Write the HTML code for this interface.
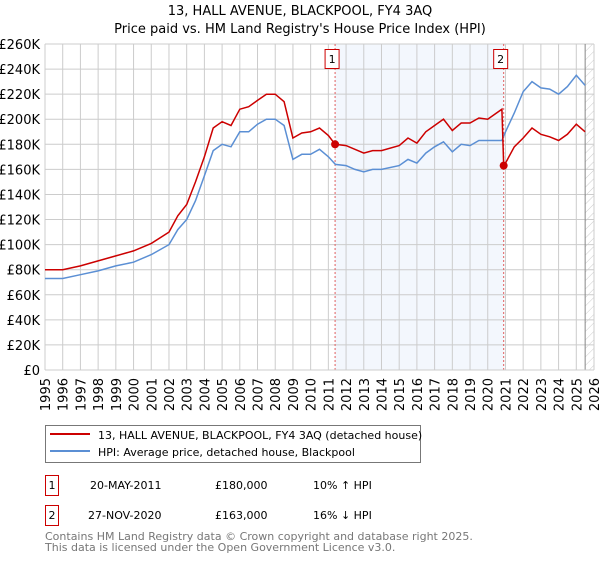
<!DOCTYPE html>
<html><head><meta charset="utf-8"><style>
body{margin:0;background:#fff;font-family:"DejaVu Sans","Liberation Sans",sans-serif;}
svg text{font-family:"DejaVu Sans","Liberation Sans",sans-serif;}
</style></head><body>
<svg id="c" width="600" height="560" viewBox="0 0 600 560">
<defs><pattern id="hatch" width="6" height="6" patternUnits="userSpaceOnUse" patternTransform="rotate(45)"><line x1="0" y1="0" x2="0" y2="6" stroke="#ccc" stroke-width="1"/></pattern></defs>
<text x="300" y="15" text-anchor="middle" font-size="13">13, HALL AVENUE, BLACKPOOL, FY4 3AQ</text>
<text x="300" y="33" text-anchor="middle" font-size="13">Price paid vs. HM Land Registry's House Price Index (HPI)</text>
<g id="plot"></g>
<g>
<rect x="45.5" y="425.5" width="375" height="37" fill="#fff" stroke="#777"/>
<line x1="50" y1="434" x2="90" y2="434" stroke="#cc0000" stroke-width="2"/>
<text x="98" y="439" font-size="11">13, HALL AVENUE, BLACKPOOL, FY4 3AQ (detached house)</text>
<line x1="50" y1="451" x2="90" y2="451" stroke="#5b8fd4" stroke-width="2"/>
<text x="98" y="456" font-size="11">HPI: Average price, detached house, Blackpool</text>
</g>
<g font-size="11">
<rect x="45.5" y="475.5" width="13" height="20" fill="#fff" stroke="#cc0000"/>
<text x="52" y="489" text-anchor="middle">1</text>
<text x="90" y="489">20-MAY-2011</text><text x="215" y="489">£180,000</text><text x="313" y="489">10% ↑ HPI</text>
<rect x="45.5" y="505.5" width="13" height="20" fill="#fff" stroke="#cc0000"/>
<text x="52" y="519" text-anchor="middle">2</text>
<text x="88" y="519">27-NOV-2020</text><text x="215" y="519">£163,000</text><text x="313" y="519">16% ↓ HPI</text>
</g>
<text x="45" y="540" font-size="11" fill="#777">Contains HM Land Registry data © Crown copyright and database right 2025.</text>
<text x="45" y="551" font-size="11" fill="#777">This data is licensed under the Open Government Licence v3.0.</text>
</svg>
<script>
const yTicks=[0,20,40,60,80,100,120,140,160,180,200,220,240,260];
const xYears=[1995,1996,1997,1998,1999,2000,2001,2002,2003,2004,2005,2006,2007,2008,2009,2010,2011,2012,2013,2014,2015,2016,2017,2018,2019,2020,2021,2022,2023,2024,2025,2026];
const hpiT=[1995,1996,1997,1998,1999,2000,2001,2002,2002.5,2003,2003.5,2004,2004.5,2005,2005.5,2006,2006.5,2007,2007.5,2008,2008.5,2009,2009.5,2010,2010.5,2011,2011.4,2012,2012.5,2013,2013.5,2014,2015,2015.5,2016,2016.5,2017,2017.5,2018,2018.5,2019,2019.5,2020,2020.8,2021,2021.5,2022,2022.5,2023,2023.5,2024,2024.5,2025,2025.5];
const hpiV=[73,73,76,79,83,86,92,100,112,120,135,155,175,180,178,190,190,196,200,200,195,168,172,172,176,170,164,163,160,158,160,160,163,168,165,173,178,182,174,180,179,183,183,183,190,205,222,230,225,224,220,226,235,227];
const redT=[1995,1996,1997,1998,1999,2000,2001,2002,2002.5,2003,2003.5,2004,2004.5,2005,2005.5,2006,2006.5,2007,2007.5,2008,2008.5,2009,2009.5,2010,2010.5,2011,2011.38,2012,2012.5,2013,2013.5,2014,2015,2015.5,2016,2016.5,2017,2017.5,2018,2018.5,2019,2019.5,2020,2020.8,2020.9,2021,2021.5,2022,2022.5,2023,2023.5,2024,2024.5,2025,2025.5];
const redV=[80,80,83,87,91,95,101,110,123,132,150,170,193,198,195,208,210,215,220,220,214,185,189,190,193,187,180,179,176,173,175,175,179,185,181,190,195,200,191,197,197,201,200,208,163,165,178,185,193,188,186,183,188,196,190];
const saleT=[2011.38,2020.9];
const saleV=[180,163];
const saleLabels=["1","2"];
const X0=45,X1=594,Y0=370,Y1=44;
const xs=t=>X0+(t-1995)/(2026-1995)*(X1-X0);
const ys=v=>Y0-v/260*(Y0-Y1);
const NS="http://www.w3.org/2000/svg";
const g=document.getElementById('plot');
function mk(tag,attrs,parent){const e=document.createElementNS(NS,tag);for(const k in attrs)e.setAttribute(k,attrs[k]);(parent||g).appendChild(e);return e;}
let r=mk('rect',{x:xs(saleT[0]),y:Y1,width:xs(saleT[1])-xs(saleT[0]),height:Y0-Y1,fill:'#eef3fc',opacity:0.7});


let h=mk('rect',{x:xs(2025.5),y:Y1,width:X1-xs(2025.5),height:Y0-Y1,fill:'url(#hatch)'});


yTicks.forEach(v=>{
 let l=mk('line',{x1:X0,x2:X1,y1:ys(v),y2:ys(v),stroke:'#ccc','stroke-width':1});
 
 
 let t=mk('text',{x:40,y:ys(v)+5,'text-anchor':'end','font-size':13});
 t.textContent=v===0?'£0':'£'+v+'K';
 
 
});
xYears.forEach(y=>{
 let l=mk('line',{x1:xs(y),x2:xs(y),y1:Y1,y2:Y0,stroke:'#ccc','stroke-width':1});
 
 
 let t=mk('text',{x:0,y:0,'font-size':13,'text-anchor':'end',transform:`translate(${xs(y)+5},${Y0+8}) rotate(-90)`});
 t.textContent=y;
 
 
});
let vl=mk('line',{x1:xs(2025.5),x2:xs(2025.5),y1:Y1,y2:Y0,stroke:'#888','stroke-width':1});


saleT.forEach((t,i)=>{
 let l=mk('line',{x1:xs(t),x2:xs(t),y1:Y1,y2:Y0,stroke:'#e06060','stroke-width':1,'stroke-dasharray':'2,2'});
 
 
 let b=mk('rect',{x:xs(t)-10,y:49.5,width:14,height:19,fill:'#fff',stroke:'#cc0000'});
 
 
 let tx=mk('text',{x:xs(t)-3,y:63,'text-anchor':'middle','font-size':11});
 tx.textContent=saleLabels[i];
 
 
});
const path=(T,V)=>T.map((t,i)=>(i?'L':'M')+xs(t).toFixed(1)+','+ys(V[i]).toFixed(1)).join('');
let hp=mk('path',{d:path(hpiT,hpiV),fill:'none',stroke:'#5b8fd4','stroke-width':1.5});


let rp=mk('path',{d:path(redT,redV),fill:'none',stroke:'#cc0000','stroke-width':1.5});


saleT.forEach((t,i)=>{
 let c=mk('circle',{cx:xs(t),cy:ys(saleV[i]),r:4,fill:'#cc0000'});
 
 
});
let ax=mk('line',{x1:X0,x2:X1,y1:Y0,y2:Y0,stroke:'#ccc'});


</script>
</body></html>
